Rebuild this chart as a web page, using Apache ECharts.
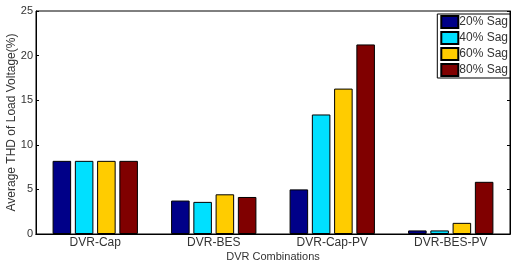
<html>
<head>
<meta charset="utf-8">
<script src="https://cdn.jsdelivr.net/npm/echarts@6/dist/echarts.min.js"></script>
<style>body{margin:0;background:#fff}</style>
</head>
<body>
<div id="main" style="width:511px;height:264px;"></div>
<script>
// categories and values
var categories = ['DVR-Cap', 'DVR-BES', 'DVR-Cap-PV', 'DVR-BES-PV'];
var sag20 = [8.2, 3.75, 5.0, 0.4];
var sag40 = [8.2, 3.6, 13.4, 0.4];
var sag60 = [8.2, 4.45, 16.3, 1.25];
var sag80 = [8.2, 4.15, 21.25, 5.85];
var seriesNames = ['20% Sag', '40% Sag', '60% Sag', '80% Sag'];
var colors = ['#000088', '#00e0ff', '#ffcc00', '#800000'];

var myChart = echarts.init(document.getElementById('main'));
var font = 'Liberation Sans, Arial, sans-serif';

function bar(name, data, i) {
    return {
        name: name,
        type: 'bar',
        data: data,
        barGap: '20%',
        barCategoryGap: '28%',
        itemStyle: {color: colors[i], borderColor: '#000', borderWidth: 1}
    };
}

var option = {
    animation: false,
    textStyle: {fontFamily: font},
    grid: {left: 36, right: 1, top: 11, bottom: 30, outerBoundsMode: 'none', containLabel: false,
        show: true, borderColor: '#000', borderWidth: 1},
    legend: {
        data: seriesNames, icon: 'rect',
        right: 1, top: 14, orient: 'vertical',
        backgroundColor: '#fff', borderColor: '#000', borderWidth: 1,
        padding: [1, 2, 1, 3], itemGap: 2, itemWidth: 17, itemHeight: 12,
        textStyle: {fontSize: 12, color: '#333', padding: [0, 0, 0, -4]}
    },
    xAxis: [{
        type: 'category', data: categories,
        name: 'DVR Combinations', nameLocation: 'middle', nameGap: 17, nameMoveOverlap: false,
        nameTextStyle: {fontSize: 11, color: '#333'},
        axisLine: {lineStyle: {color: '#000'}},
        axisTick: {inside: true, alignWithLabel: true, length: 3, lineStyle: {color: '#000'}},
        axisLabel: {fontSize: 12, color: '#333', margin: 3}
    }, {
        type: 'category', data: categories, position: 'top',
        axisLine: {lineStyle: {color: '#000'}},
        axisTick: {inside: true, alignWithLabel: true, length: 3, lineStyle: {color: '#000'}},
        axisLabel: {show: false}
    }],
    yAxis: [{
        type: 'value', min: 0, max: 25, interval: 5,
        name: 'Average THD of Load Voltage(%)', nameLocation: 'middle', nameGap: 18, nameMoveOverlap: false,
        nameTextStyle: {fontSize: 12, color: '#333'},
        axisLine: {show: true, lineStyle: {color: '#000'}},
        axisTick: {show: true, inside: true, length: 3, lineStyle: {color: '#000'}},
        axisLabel: {fontSize: 11, color: '#333', margin: 3},
        splitLine: {show: false}
    }, {
        type: 'value', min: 0, max: 25, interval: 5, position: 'right',
        axisLine: {show: true, lineStyle: {color: '#000'}},
        axisTick: {show: true, inside: true, length: 3, lineStyle: {color: '#000'}},
        axisLabel: {show: false},
        splitLine: {show: false}
    }],
    series: [
        bar(seriesNames[0], sag20, 0),
        bar(seriesNames[1], sag40, 1),
        bar(seriesNames[2], sag60, 2),
        bar(seriesNames[3], sag80, 3)
    ]
};
myChart.setOption(option);
</script>
</body>
</html>
